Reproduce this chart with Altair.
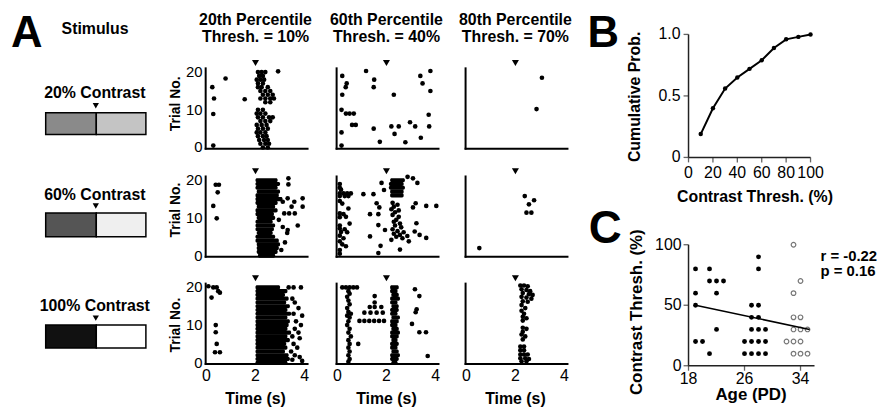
import altair as alt
import pandas as pd

FONT = "Liberation Sans"

# ================= Panel A : raster data (time in s, trial no.) =================
# row 1 = 20% contrast, row 2 = 60%, row 3 = 100%; columns = 20th / 60th / 80th percentile
col_titles_1 = ["20th Percentile", "60th Percentile", "80th Percentile"]
col_titles_2 = ["Thresh. = 10%", "Thresh. = 40%", "Thresh. = 70%"]
stim_labels = ["20% Contrast", "60% Contrast", "100% Contrast"]
stim_left = ["#8a8a8a", "#555555", "#111111"]
stim_right = ["#c4c4c4", "#efefef", "#ffffff"]

# --- row 1, col 1
r1c1_t = [0.24, 0.78, 0.31, 1.56, 0.28, 0.28, 2.92]
r1c1_trial = [16.0, 18.3, 13.0, 12.8, 8.9, 0.5, 20.2]
r1c1_cluster = {
    20: [2.1, 2.25, 2.4], 19: [2.15, 2.3], 18: [2.05, 2.2, 2.35], 17: [2.1, 2.3],
    16: [2.1, 2.25, 2.5], 15: [2.2, 2.4, 2.6], 14: [2.3, 2.5, 2.7], 13: [2.2, 2.4, 2.6, 2.75],
    12: [2.4, 2.6], 10: [2.1, 2.3], 9: [2.05, 2.2, 2.4], 8: [2.1, 2.3, 2.55, 2.7],
    7: [2.2, 2.4, 2.6], 6: [2.05, 2.25, 2.45], 5: [2.1, 2.3, 2.5], 4: [2.05, 2.2, 2.4],
    3: [2.1, 2.3, 2.45], 2: [2.15, 2.35, 2.5], 1: [2.2, 2.4, 2.55], 0: [2.3, 2.5],
}
# --- row 1, col 2
r1c2_t = [0.2, 0.38, 0.34, 0.2, 1.17, 1.5, 1.48, 0.17, 0.35, 0.5, 0.67, 0.6, 0.75, 0.17,
          1.48, 0.17, 1.73, 3.38, 3.79, 3.47, 3.79, 2.3, 3.72, 2.2, 2.5, 2.96, 3.17, 3.74,
          2.33, 3.4, 2.77]
r1c2_trial = [19, 17, 16, 14, 20.3, 18, 16, 10, 9, 9, 9, 6, 6, 4, 5, 0.5, 1.5, 19, 20.3, 17,
              15, 14, 8.7, 5.6, 5.6, 6.7, 5.6, 5.6, 3.6, 2.6, 1.4]
# --- row 1, col 3
r1c3_t = [3.08, 2.86]
r1c3_trial = [18.5, 10.2]

# --- row 2, col 1
r2c1_t = [0.38, 0.51, 0.46, 0.28, 0.42, 3.34, 3.34, 3.92, 3.31, 3.11, 3.58, 3.92, 3.47, 3.17,
          3.37, 3.6, 2.95, 3.11, 3.31, 3.72, 3.29, 3.2, 3.05]
r2c1_trial = [18.8, 18.8, 16.8, 13.2, 9.9, 20.5, 18.9, 15.2, 15.2, 14.3, 14.3, 13, 13, 11.2,
              11.2, 11.2, 9.5, 7.6, 6.8, 8, 6, 3.5, 1.5]
r2c1_burst_trial = list(range(20, -1, -1))
r2c1_on = [2.0, 2.0, 2.0, 2.05, 2.0, 2.0, 2.0, 2.05, 2.0, 2.0, 2.05, 2.0, 2.0, 2.0, 2.05, 2.0,
           2.0, 2.05, 2.05, 2.05, 2.1]
r2c1_off = [2.9, 3.0, 2.9, 3.0, 2.95, 3.1, 2.9, 2.8, 2.9, 2.75, 2.8, 2.7, 2.8, 2.75, 2.7, 2.8,
            2.95, 3.0, 2.95, 2.9, 2.8]
# --- row 2, col 2
r2c2_t = [0.1, 0.1, 0.15, 0.1, 0.25, 0.4, 0.55, 0.1, 0.3, 0.45, 0.1, 0.2, 0.45, 0.1, 0.25,
          0.1, 0.35, 0.5, 0.1, 0.1, 0.3, 0.15, 0.4, 0.1, 0.25, 0.1, 0.2, 0.35, 0.1, 0.1,
          2.25, 2.45, 2.3, 2.2, 2.5, 2.35, 2.25, 2.5, 2.4, 2.3, 2.55, 2.35, 2.6, 2.25, 2.45,
          2.7, 2.3, 2.55, 2.85, 2.4, 2.65, 2.2, 2.55,
          1.8, 2.86, 3.08, 3.26, 1.06, 1.47, 1.9, 1.6, 1.71, 3.19, 3.08, 3.62, 4.03, 1.33,
          1.67, 1.67, 3.22, 1.33, 1.94, 3.15, 3.35, 3.62, 2.91, 1.76, 1.67]
r2c2_trial = [19, 18, 17.5, 16.5, 16.5, 16.5, 16.5, 15.8, 15.8, 15.8, 14.5, 13.8, 12.5, 11.2,
              11, 10.2, 10.3, 8.5, 8, 7.2, 7, 6.3, 6.2, 5.3, 4.6, 3.8, 3, 2.5, 1.5, 0.5,
              14, 13.5, 13, 12.3, 12, 11.5, 10.8, 10.3, 9.5, 9, 8.5, 8, 7.5, 7, 6.5, 6.2, 5.8,
              5.5, 5.2, 5, 4.6, 4.2, 1.6,
              19.3, 20.9, 20.5, 19.3, 16.3, 16.3, 17.4, 13.9, 12.8, 13.9, 12.8, 13.2, 13.2, 11,
              11, 8.1, 8.6, 5.1, 6.8, 6.4, 5.5, 4.7, 3.8, 2.6, 0.7]
r2c2_burst_trial = [20, 19, 18, 17, 16]
r2c2_on = [2.15, 2.1, 2.1, 2.15, 2.15]
r2c2_off = [2.75, 2.7, 2.75, 2.7, 2.7]
# --- row 2, col 3
r2c3_t = [2.38, 2.76, 2.55, 2.45, 2.65, 0.53]
r2c3_trial = [15.8, 14.7, 13.6, 11.4, 11.4, 2.0]

# --- row 3, col 1
r3c1_t = [0.08, 0.28, 0.42, 0.48, 0.55, 0.21, 0.38, 0.38, 0.42, 0.35, 0.55,
          3.35, 3.55, 3.85, 3.5, 3.6, 3.75, 3.55, 3.9, 3.65, 3.85, 3.6, 3.75, 3.5, 3.8, 3.55,
          3.7, 3.45, 3.6, 3.8, 3.9, 3.5]
r3c1_trial = [20.3, 20, 20, 19, 18.6, 17.3, 10, 8.1, 5, 2.8, 2.8,
              20, 20, 20, 17, 16, 14.5, 13, 12.5, 11, 10, 9, 8, 7, 6.5, 5, 4, 3, 2, 1.5, 0.5,
              0.8]
r3c1_burst_trial = list(range(20, -1, -1))
r3c1_on = [2.0, 2.0, 2.0, 2.0, 2.0, 2.0, 2.0, 2.0, 2.0, 2.0, 2.0, 2.0, 2.0, 2.0, 2.0, 2.0,
           2.0, 2.0, 2.0, 2.0, 2.0]
r3c1_off = [3.0, 3.3, 3.2, 3.35, 3.25, 3.4, 3.3, 3.45, 3.3, 3.4, 3.35, 3.3, 3.45, 3.3, 3.4,
            3.25, 3.3, 3.2, 3.35, 3.4, 3.3]
# --- row 3, col 2
r3c2_t = [0.2, 0.35, 0.5, 0.65, 0.8,
          0.45, 0.5, 0.4, 0.45, 0.5, 0.4, 0.45, 0.55, 0.4, 0.5, 0.45, 0.4, 0.5, 0.45, 0.55,
          0.45, 0.85, 0.5, 0.45, 0.5, 0.45, 0.5, 0.45,
          3.16, 3.34, 3.23, 3.19, 3.04, 3.34, 3.61, 3.68, 1.52, 1.52, 1.32, 1.52, 1.79, 1.1,
          1.35, 1.6, 1.85, 0.9, 1.1, 1.3, 1.5, 1.7, 1.9]
r3c2_trial = [20, 20, 20, 20, 20,
              19, 18.3, 17.5, 16.5, 15.5, 14.5, 13.5, 13, 12.5, 12, 11, 10, 9, 8, 7, 6, 5, 5,
              4, 3, 2, 1, 0.3,
              19.5, 17.7, 14.2, 13.4, 10.3, 8.1, 8.1, 1.8, 17.7, 16, 14.8, 14.8, 14.8, 13.3,
              13.3, 13.3, 13.3, 11.1, 11.1, 11.1, 11.1, 11.1, 11.1]
r3c2_burst_trial = list(range(20, -1, -1))
r3c2_on = [2.15, 2.15, 2.2, 2.15, 2.15, 2.2, 2.15, 2.15, 2.2, 2.15, 2.15, 2.2, 2.15, 2.15,
           2.2, 2.15, 2.15, 2.2, 2.15, 2.15, 2.2]
r3c2_off = [2.5, 2.45, 2.5, 2.55, 2.45, 2.5, 2.5, 2.45, 2.55, 2.5, 2.45, 2.5, 2.55, 2.5,
            2.45, 2.5, 2.45, 2.5, 2.55, 2.5, 2.45]
# --- row 3, col 3
r3c3_t = [2.2, 2.35, 2.5, 2.25, 2.45, 2.6, 2.3, 2.55, 2.7, 2.25, 2.45, 2.65, 2.3, 2.5,
          2.25, 2.4, 2.25, 2.35, 2.3, 2.45, 2.3, 2.3, 2.45, 2.3, 2.25, 2.4, 2.3,
          2.2, 2.35, 2.2, 2.35, 2.2, 2.35, 2.5, 2.2, 2.4, 2.55, 2.25, 2.45]
r3c3_trial = [20.5, 20.5, 20.3, 19.5, 19.3, 19, 18.5, 18.2, 18, 17.5, 17.3, 17, 16.3, 16.2,
              15.3, 14.5, 13.8, 13, 12.2, 11.8, 11.2, 9.3, 9, 8.2, 7.5, 7, 6.2,
              4.3, 4.3, 3.3, 3.3, 2.2, 2.2, 2.2, 1.2, 1.2, 1, 0.4, 0.4]

# ================= Panel B : cumulative probability =================
B_thresh = [10, 20, 30, 40, 50, 60, 70, 80, 90, 100]
B_cum = [0.19, 0.40, 0.56, 0.65, 0.72, 0.79, 0.89, 0.96, 0.98, 1.0]
B_xticks = [0, 20, 40, 60, 80, 100]
B_yticks = [0, 0.5, 1.0]
B_ylabels = ["0", "0.5", "1.0"]

# ================= Panel C : threshold vs age =================
C_filled_age = [19, 19, 19, 19, 20, 21, 21, 21, 22, 22, 22, 23,
                26, 26, 27, 27, 27, 27, 27, 28, 28, 28, 28, 28, 28, 28, 29, 29, 29]
C_filled_thr = [80, 60, 50, 20, 20, 80, 70, 10, 70, 60, 30, 70,
                20, 10, 50, 40, 30, 20, 10, 90, 80, 50, 40, 30, 20, 10, 30, 20, 10]
C_open_age = [32, 33, 33, 33, 33, 33, 33, 34, 34, 34, 34, 34, 35, 35]
C_open_thr = [20, 100, 60, 40, 30, 20, 10, 70, 40, 30, 20, 10, 30, 10]
C_fit_age = [19, 35.3]
C_fit_thr = [50, 30]
C_xticks = [18, 26, 34]
C_yticks = [0, 50, 100]

# ================= layout (pixel ranges of each scale) =================
COL_X0 = [200, 332, 462]
ROW_Y0 = [139, 248, 356]
PW, PH = 99, 76


def sx(c):
    return alt.Scale(domain=[0, 4], range=[COL_X0[c], COL_X0[c] + PW], nice=False, zero=False)


def sy(r):
    return alt.Scale(domain=[0, 20], range=[ROW_Y0[r], ROW_Y0[r] - PH], nice=False, zero=False)


layers = []
DOT = 22


def dots(c, r, ts, trials):
    df = pd.DataFrame({"t": ts, "trial": trials})
    return alt.Chart(df).mark_circle(size=DOT, color="black", opacity=1).encode(
        x=alt.X("t:Q", scale=sx(c), axis=None),
        y=alt.Y("trial:Q", scale=sy(r), axis=None))


def bursts(c, r, trials, on, off):
    df = pd.DataFrame({"trial": trials, "on": on, "off": off})
    return alt.Chart(df).transform_calculate(
        lo="datum.trial - 0.55", hi="datum.trial + 0.55"
    ).mark_rect(color="black", cornerRadius=1.5).encode(
        x=alt.X("on:Q", scale=sx(c), axis=None), x2="off:Q",
        y=alt.Y("lo:Q", scale=sy(r), axis=None), y2="hi:Q")


def frame(c, r):
    out = []
    xa = pd.DataFrame({"a": [-0.03], "b": [4.12], "y": [-0.3]})
    out.append(alt.Chart(xa).mark_rule(strokeWidth=2, color="black", strokeCap="square").encode(
        x=alt.X("a:Q", scale=sx(c), axis=None), x2="b:Q",
        y=alt.Y("y:Q", scale=sy(r), axis=None)))
    ya = pd.DataFrame({"x": [-0.03], "lo": [-0.3], "hi": [21.0]})
    out.append(alt.Chart(ya).mark_rule(strokeWidth=2, color="black", strokeCap="square").encode(
        x=alt.X("x:Q", scale=sx(c), axis=None),
        y=alt.Y("lo:Q", scale=sy(r), axis=None), y2="hi:Q"))
    tri = pd.DataFrame({"t": [2.0], "trial": [22.4]})
    out.append(alt.Chart(tri).mark_point(shape="triangle-down", filled=True, size=50,
                                         color="black", opacity=1).encode(
        x=alt.X("t:Q", scale=sx(c), axis=None),
        y=alt.Y("trial:Q", scale=sy(r), axis=None)))
    if c == 0:
        yt = pd.DataFrame({"t": [0, 0, 0], "trial": [0, 10, 20], "lab": ["0", "10", "20"]})
        out.append(alt.Chart(yt).mark_text(align="right", baseline="middle", dx=-4, fontSize=15,
                                           font=FONT, color="black").encode(
            x=alt.X("t:Q", scale=sx(c), axis=None),
            y=alt.Y("trial:Q", scale=sy(r), axis=None), text="lab:N"))
    if r == 2:
        xt = pd.DataFrame({"t": [0, 2, 4], "trial": [0, 0, 0], "lab": ["0", "2", "4"]})
        out.append(alt.Chart(xt).mark_text(align="center", baseline="middle", dy=13, fontSize=16,
                                           font=FONT, color="black").encode(
            x=alt.X("t:Q", scale=sx(c), axis=None),
            y=alt.Y("trial:Q", scale=sy(r), axis=None), text="lab:N"))
        tt = pd.DataFrame({"t": [2], "trial": [0], "lab": ["Time (s)"]})
        out.append(alt.Chart(tt).mark_text(align="center", baseline="middle", dy=37, fontSize=16,
                                           fontWeight="bold", font=FONT, color="black").encode(
            x=alt.X("t:Q", scale=sx(c), axis=None),
            y=alt.Y("trial:Q", scale=sy(r), axis=None), text="lab:N"))
    return out


def cluster_points(d):
    ts, tr = [], []
    for k, v in d.items():
        for t in v:
            ts.append(t)
            tr.append(k)
    return ts, tr


raster = {
    (0, 0): [("d", r1c1_t, r1c1_trial), ("d",) + tuple(cluster_points(r1c1_cluster))],
    (1, 0): [("d", r1c2_t, r1c2_trial)],
    (2, 0): [("d", r1c3_t, r1c3_trial)],
    (0, 1): [("b", r2c1_burst_trial, r2c1_on, r2c1_off), ("d", r2c1_t, r2c1_trial)],
    (1, 1): [("b", r2c2_burst_trial, r2c2_on, r2c2_off), ("d", r2c2_t, r2c2_trial)],
    (2, 1): [("d", r2c3_t, r2c3_trial)],
    (0, 2): [("b", r3c1_burst_trial, r3c1_on, r3c1_off), ("d", r3c1_t, r3c1_trial)],
    (1, 2): [("b", r3c2_burst_trial, r3c2_on, r3c2_off), ("d", r3c2_t, r3c2_trial)],
    (2, 2): [("d", r3c3_t, r3c3_trial)],
}

for (c, r), items in raster.items():
    layers.extend(frame(c, r))
    for it in items:
        if it[0] == "d":
            layers.append(dots(c, r, it[1], it[2]))
        else:
            layers.append(bursts(c, r, it[1], it[2], it[3]))


def label(text, x, y, size=16, bold=True, angle=0, align="center", baseline="middle"):
    df = pd.DataFrame({"s": [text]})
    kw = dict(align=align, baseline=baseline, fontSize=size, font=FONT, color="black")
    if bold:
        kw["fontWeight"] = "bold"
    if angle:
        kw["angle"] = angle
    return alt.Chart(df).mark_text(**kw).encode(
        x=alt.value(x), y=alt.value(y), text="s:N")


# column titles
for c in range(3):
    cx = COL_X0[c] + PW / 2
    layers.append(label(col_titles_1[c], cx, 11))
    layers.append(label(col_titles_2[c], cx, 28))
# trial labels
for r, yy in enumerate([95, 202, 318]):
    layers.append(label("Trial No.", 169, yy, size=14, angle=270))

# panel letters & stimulus
layers.append(label("A", 19, 38, size=44, baseline="alphabetic"))
layers.append(label("Stimulus", 54, 20, size=16, align="left"))
stim_bar_y = [(104, 126), (205, 229), (318, 341)]
stim_text_y = [84, 187, 299]
for i in range(3):
    y0, y1 = stim_bar_y[i]
    sdf = pd.DataFrame({"s": [stim_labels[i]]})
    layers.append(alt.Chart(sdf).mark_rect(color=stim_left[i], stroke="black", strokeWidth=1.5).encode(
        x=alt.value(38), x2=alt.value(89), y=alt.value(y0), y2=alt.value(y1)))
    layers.append(alt.Chart(sdf).mark_rect(color=stim_right[i], stroke="black", strokeWidth=1.5).encode(
        x=alt.value(89), x2=alt.value(139), y=alt.value(y0), y2=alt.value(y1)))
    layers.append(label(stim_labels[i], 87.5, stim_text_y[i]))
    layers.append(alt.Chart(sdf).mark_point(shape="triangle-down", filled=True, size=40,
                                            color="black", opacity=1).encode(
        x=alt.value(88.5), y=alt.value(y0 - 7)))

# ---------------- Panel B ----------------
bx = alt.Scale(domain=[0, 100], range=[686, 809], nice=False, zero=False)
by = alt.Scale(domain=[0, 1], range=[149, 25], nice=False, zero=False)
AX = "#222222"
bdf = pd.DataFrame({"x": B_thresh, "y": B_cum})
layers.append(alt.Chart(bdf).mark_line(color="black", strokeWidth=2).encode(
    x=alt.X("x:Q", scale=bx, axis=None), y=alt.Y("y:Q", scale=by, axis=None)))
layers.append(alt.Chart(bdf).mark_circle(color="black", size=20, opacity=1).encode(
    x=alt.X("x:Q", scale=bx, axis=None), y=alt.Y("y:Q", scale=by, axis=None)))
layers.append(alt.Chart(pd.DataFrame({"a": [0], "b": [100], "y": [0]})).mark_rule(
    color=AX, strokeWidth=1.5).encode(
    x=alt.X("a:Q", scale=bx, axis=None), x2="b:Q", y=alt.Y("y:Q", scale=by, axis=None)))
layers.append(alt.Chart(pd.DataFrame({"x": [0], "a": [0], "b": [1]})).mark_rule(
    color=AX, strokeWidth=1.5).encode(
    x=alt.X("x:Q", scale=bx, axis=None), y=alt.Y("a:Q", scale=by, axis=None), y2="b:Q"))
bxt = pd.DataFrame({"x": B_xticks, "y": [0] * len(B_xticks), "lab": [str(v) for v in B_xticks]})
layers.append(alt.Chart(bxt).mark_tick(orient="vertical", size=5, thickness=1.3, color=AX,
                                       yOffset=2.5).encode(
    x=alt.X("x:Q", scale=bx, axis=None), y=alt.Y("y:Q", scale=by, axis=None)))
layers.append(alt.Chart(bxt).mark_text(dy=16, fontSize=16, font=FONT, color="black").encode(
    x=alt.X("x:Q", scale=bx, axis=None), y=alt.Y("y:Q", scale=by, axis=None), text="lab:N"))
byt = pd.DataFrame({"x": [0] * 3, "y": B_yticks, "lab": B_ylabels})
layers.append(alt.Chart(byt).mark_tick(orient="horizontal", size=5, thickness=1.3, color=AX,
                                       xOffset=-2.5).encode(
    x=alt.X("x:Q", scale=bx, axis=None), y=alt.Y("y:Q", scale=by, axis=None)))
layers.append(alt.Chart(byt).mark_text(dx=-8, align="right", baseline="middle", fontSize=16,
                                       font=FONT, color="black").encode(
    x=alt.X("x:Q", scale=bx, axis=None), y=alt.Y("y:Q", scale=by, axis=None), text="lab:N"))
layers.append(label("B", 600, 38, size=44, baseline="alphabetic"))
layers.append(label("Cumulative Prob.", 632, 88, size=16, angle=270))
layers.append(label("Contrast Thresh. (%)", 753, 189, size=16))

# ---------------- Panel C ----------------
cx_ = alt.Scale(domain=[18, 36], range=[686, 813], nice=False, zero=False)
cy_ = alt.Scale(domain=[0, 100], range=[359, 237], nice=False, zero=False)
layers.append(alt.Chart(pd.DataFrame({"a": [18], "b": [36], "y": [0]})).mark_rule(
    color=AX, strokeWidth=1.5).encode(
    x=alt.X("a:Q", scale=cx_, axis=None), x2="b:Q", y=alt.Y("y:Q", scale=cy_, axis=None)))
layers.append(alt.Chart(pd.DataFrame({"x": [18], "a": [0], "b": [100]})).mark_rule(
    color=AX, strokeWidth=1.5).encode(
    x=alt.X("x:Q", scale=cx_, axis=None), y=alt.Y("a:Q", scale=cy_, axis=None), y2="b:Q"))
cxt = pd.DataFrame({"x": C_xticks, "y": [0] * 3, "lab": [str(v) for v in C_xticks]})
layers.append(alt.Chart(cxt).mark_tick(orient="vertical", size=5, thickness=1.3, color=AX,
                                       yOffset=2.5).encode(
    x=alt.X("x:Q", scale=cx_, axis=None), y=alt.Y("y:Q", scale=cy_, axis=None)))
layers.append(alt.Chart(cxt).mark_text(dy=13, fontSize=16, font=FONT, color="black").encode(
    x=alt.X("x:Q", scale=cx_, axis=None), y=alt.Y("y:Q", scale=cy_, axis=None), text="lab:N"))
cyt = pd.DataFrame({"x": [18] * 3, "y": C_yticks, "lab": [str(v) for v in C_yticks]})
layers.append(alt.Chart(cyt).mark_tick(orient="horizontal", size=5, thickness=1.3, color=AX,
                                       xOffset=-2.5).encode(
    x=alt.X("x:Q", scale=cx_, axis=None), y=alt.Y("y:Q", scale=cy_, axis=None)))
layers.append(alt.Chart(cyt).mark_text(dx=-7, align="right", baseline="middle", fontSize=16,
                                       font=FONT, color="black").encode(
    x=alt.X("x:Q", scale=cx_, axis=None), y=alt.Y("y:Q", scale=cy_, axis=None), text="lab:N"))
cf = pd.DataFrame({"age": C_filled_age, "thr": C_filled_thr})
layers.append(alt.Chart(cf).mark_circle(color="black", size=24, opacity=1).encode(
    x=alt.X("age:Q", scale=cx_, axis=None), y=alt.Y("thr:Q", scale=cy_, axis=None)))
co = pd.DataFrame({"age": C_open_age, "thr": C_open_thr})
layers.append(alt.Chart(co).mark_point(shape="circle", filled=False, color="#777777",
                                       strokeWidth=1.2, size=22, opacity=1).encode(
    x=alt.X("age:Q", scale=cx_, axis=None), y=alt.Y("thr:Q", scale=cy_, axis=None)))
cfit = pd.DataFrame({"age": C_fit_age, "thr": C_fit_thr})
layers.append(alt.Chart(cfit).mark_line(color="black", strokeWidth=1.6).encode(
    x=alt.X("age:Q", scale=cx_, axis=None), y=alt.Y("thr:Q", scale=cy_, axis=None)))
layers.append(label("C", 602, 235, size=46, baseline="alphabetic"))
layers.append(label("Contrast Thresh. (%)", 634, 305, size=17, angle=270))
layers.append(label("Age (PD)", 749, 389, size=17))
layers.append(label("r = -0.22", 819, 248, size=15, align="left"))
layers.append(label("p = 0.16", 819, 264, size=15, align="left"))

chart = alt.layer(*layers).resolve_scale(x="independent", y="independent").properties(
    width=877, height=405, padding=0, autosize="none"
).configure_view(stroke=None)

chart.save("out.html", embed_options={"renderer": "svg", "actions": False})
